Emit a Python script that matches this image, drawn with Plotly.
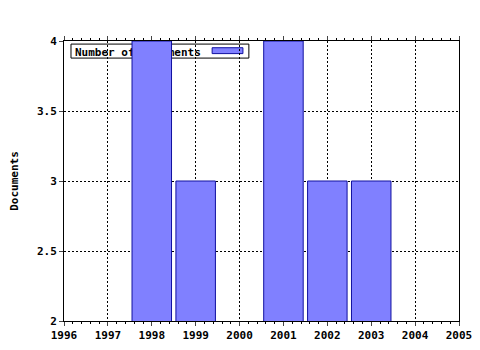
import plotly.graph_objects as go

years = [1998, 1999, 2001, 2002, 2003]
documents = [4, 3, 4, 3, 3]
series_name = "Number of Documents"
y_title = "Documents"

FONT = dict(family="DejaVu Sans Mono", size=11, color="black", weight="bold")

fig = go.Figure()
fig.add_trace(go.Bar(
    x=years, y=documents, width=0.9, name=series_name,
    marker=dict(color="#8080ff", line=dict(color="#1010a0", width=1)),
    showlegend=False,
))

grid = dict(showgrid=True, gridcolor="black", gridwidth=1, griddash="2px,2px")
fig.update_xaxes(
    range=[1996, 2005], dtick=1, tick0=1996, ticks="outside", ticklen=4,
    showline=True, linecolor="black", linewidth=1, mirror="allticks",
    minor=dict(dtick=0.2, ticks="outside", ticklen=2, tickcolor="black", showgrid=False),
    tickfont=FONT, zeroline=False, automargin=False, **grid,
)
fig.update_yaxes(
    range=[2, 4], dtick=0.5, ticks="outside", ticklen=4,
    showline=True, linecolor="black", linewidth=1, mirror=True,
    tickfont=FONT, zeroline=False, automargin=False,
    title=dict(text=y_title, font=FONT, standoff=16), **grid,
)

# legend box (drawn beneath the bars)
fig.add_shape(type="rect", xref="paper", yref="paper", layer="between",
              x0=0.0177, x1=0.468, y0=0.939, y1=0.989,
              fillcolor="white", line=dict(color="black", width=1),
              label=dict(text=series_name, font=FONT, textposition="middle left", padding=1))
fig.add_shape(type="rect", xref="paper", yref="paper", layer="between",
              x0=0.375, x1=0.453, y0=0.955, y1=0.976,
              fillcolor="#8080ff", line=dict(color="#1010a0", width=1))

fig.update_layout(
    width=480, height=350, margin=dict(l=64, r=21, t=41, b=29),
    paper_bgcolor="white", plot_bgcolor="white", font=FONT, bargap=0.1,
)
fig.write_html("out.html")
